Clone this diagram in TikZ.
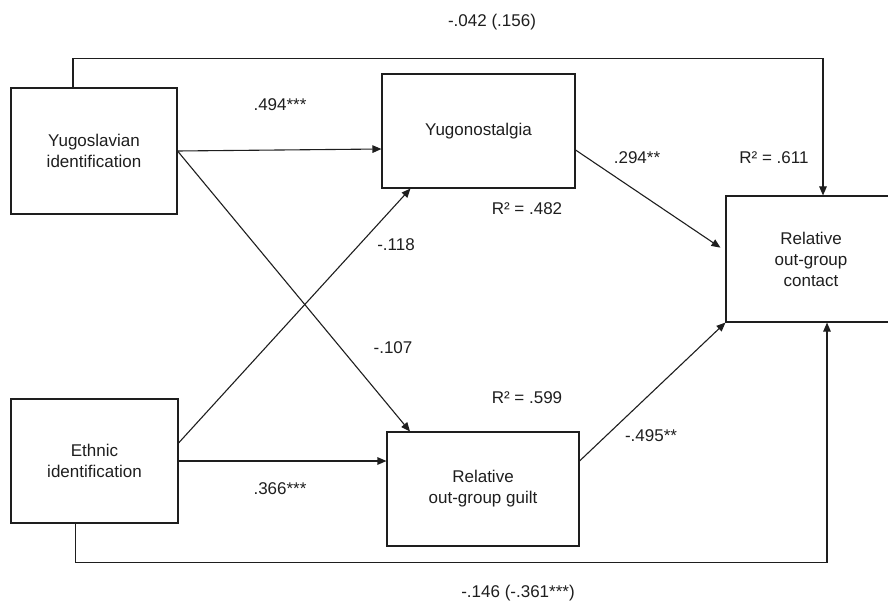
\documentclass[tikz,border=0pt]{standalone}
\usepackage{fontspec}
\setmainfont{Liberation Sans}
\usetikzlibrary{arrows.meta,calc}
\definecolor{ink}{HTML}{1E1E1E}
\tikzset{
  box/.style={draw=ink, line width=1.1pt, rectangle, align=center, inner sep=0pt, text=ink,
              font=\fontsize{17}{21}\selectfont},
  lbl/.style={text=ink, inner sep=0pt, font=\fontsize{17}{21}\selectfont},
  arr/.style={draw=ink, line width=1.1pt, -{Triangle[length=9pt,width=7.5pt]}},
}
\begin{document}
\begin{tikzpicture}[x=1pt,y=-1pt]
\useasboundingbox (0,0) rectangle (888,604);
\node[box, minimum width=166pt, minimum height=126pt] (yid) at (94,151) {Yugoslavian\\identification};
\node[box, minimum width=193pt, minimum height=114pt] (yn) at (478.5,131) {Yugonostalgia};
\node[box, minimum width=170pt, minimum height=126pt] (ct) at (811,259) {Relative\\out-group\\contact};
\node[box, minimum width=167pt, minimum height=124pt] (eid) at (94.5,461) {Ethnic\\identification};
\node[box, minimum width=192pt, minimum height=114pt] (gu) at (483,489) {Relative\\out-group guilt};

\draw[arr] (yid.east) -- ([yshift=-18pt]yn.west);
\draw[arr] (yid.east) -- ([xshift=-73pt]gu.north);
\draw[arr] ([yshift=18pt]eid.east) -- ([xshift=-68pt]yn.south);
\draw[arr] (eid.east) -- ([yshift=28pt]gu.west);
\draw[arr, shorten >=6pt] ([yshift=-19pt]yn.east) -- ([yshift=8pt]ct.west);
\draw[arr] ([yshift=28pt]gu.east) -- (ct.south west);
\draw[arr] ([xshift=-21pt]yid.north) -- ++(0,-29) -| ([xshift=12pt]ct.north);
\draw[arr] ([xshift=-19pt]eid.south) -- ++(0,39) -| ([xshift=16pt]ct.south);

\node[lbl] (l1) at (492,22) {-.042 (.156)};
\node[lbl] (l2) at (280,105) {.494***};
\node[lbl] (l3) at (637,158) {.294**};
\node[lbl] (l4) at (774,158) {R² = .611};
\node[lbl] (l5) at (527,209) {R² = .482};
\node[lbl] (l6) at (396,245) {-.118};
\node[lbl] (l7) at (393,348) {-.107};
\node[lbl] (l8) at (527,398) {R² = .599};
\node[lbl] (l9) at (651,436) {-.495**};
\node[lbl] (l10) at (280,489) {.366***};
\node[lbl] (l11) at (518,593) {-.146 (-.361***)};
\end{tikzpicture}
\end{document}
